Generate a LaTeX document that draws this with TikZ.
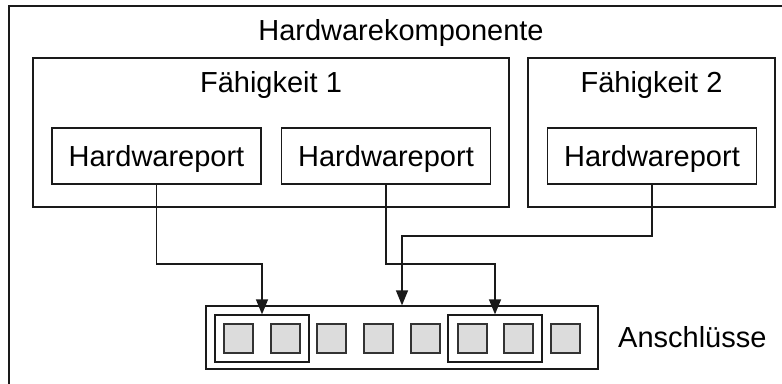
\documentclass[tikz,border=0pt]{standalone}
\usepackage{fontspec}
\setmainfont{Liberation Sans}
\usetikzlibrary{arrows.meta}
\definecolor{edge}{HTML}{1A1A1A}
\definecolor{portfill}{HTML}{DCDCDC}
\definecolor{portedge}{HTML}{333333}
\begin{document}
\begin{tikzpicture}[x=1pt,y=-1pt,
  lbl/.style={font=\fontsize{29}{34}\selectfont, inner sep=0pt, anchor=base},
  frame/.style={draw=edge, line width=1.3pt},
  hwport/.style={frame, rectangle, minimum width=209pt, minimum height=56pt,
    inner sep=0pt, text height=21pt, text depth=1pt,
    font=\fontsize{29}{34}\selectfont},
  slot/.style={draw=portedge, fill=portfill, line width=2pt, rectangle,
    minimum size=29pt, inner sep=0pt},
  link/.style={draw=edge, line width=1.3pt, -{Triangle[width=12pt,length=15pt]}}]
  \useasboundingbox (0,0) rectangle (782,383);
  \clip (0,0) rectangle (782,383);
  \fill[white] (0,0) rectangle (782,383);

  % component frame (runs off the right and bottom edges)
  \draw[frame] (9,6) rectangle (793,400);
  \node[lbl] (comp) at (401,40) {Hardwarekomponente};

  % capabilities
  \draw[frame] (33,58) rectangle (509,207);
  \node[lbl] (f1) at (271,92.7) {Fähigkeit 1};
  \draw[frame] (528,58) rectangle (775,207);
  \node[lbl] (f2) at (651.5,92.7) {Fähigkeit 2};

  % hardware ports
  \node[hwport] (hp1) at (156.5,156) {Hardwareport};
  \node[hwport] (hp2) at (386,156) {Hardwareport};
  \node[hwport] (hp3) at (652,156) {Hardwareport};

  % connector strip
  \node[frame, rectangle, minimum width=392pt, minimum height=63pt, inner sep=0pt]
    (bar) at (402,337.5) {};
  \node[frame, rectangle, minimum width=94pt, minimum height=47pt, inner sep=0pt]
    (g1) at (262,338.5) {};
  \node[frame, rectangle, minimum width=94pt, minimum height=47pt, inner sep=0pt]
    (g2) at (495,338.5) {};
  \foreach \i in {1,...,8} {
    \node[slot] (s\i) at ({238.5+(\i-1)*46.7},338.5) {};
  }
  \node[lbl, anchor=base west] (conn) at (618,347) {Anschlüsse};

  % wiring
  \coordinate (k1) at (156.5,264);
  \coordinate (k2) at (386,264);
  \coordinate (k3) at (652,236);
  \draw[link] (hp1.south) -- (k1) -| (g1.north);
  \draw[link] (hp2.south) -- (k2) -| (g2.north);
  \draw[link] (hp3.south) -- (k3) -| (bar.north);
\end{tikzpicture}
\end{document}
